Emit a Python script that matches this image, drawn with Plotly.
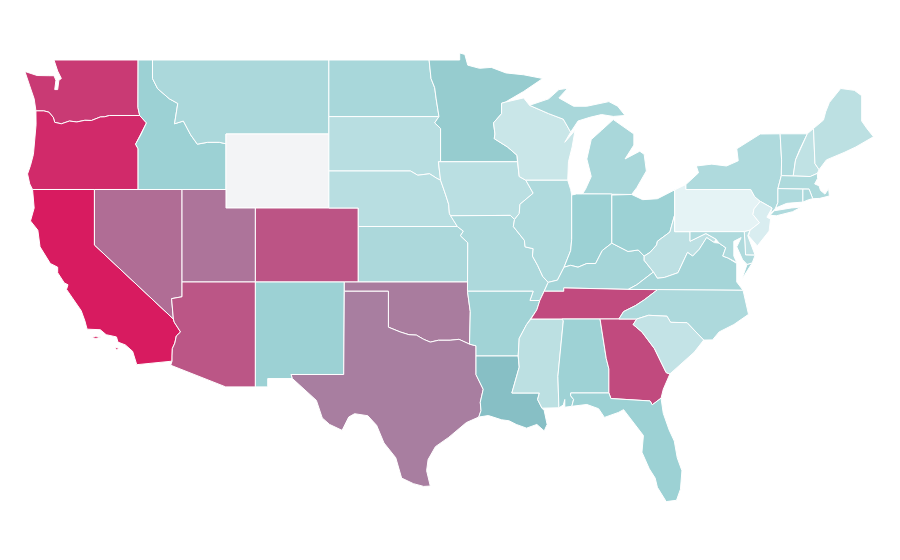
import plotly.graph_objects as go
from plotly.colors import sample_colorscale

# Values, one per state, on a -1..1 diverging scale.
states = ["WA","OR","CA","NV","ID","MT","WY","UT","AZ","CO","NM","ND","SD","NE","KS","OK","TX","MN","IA","MO","AR","LA","WI","IL","MS","MI","IN","KY","TN","AL","GA","FL","OH","WV","VA","NC","SC","PA","NY","VT","NH","ME","MA","CT","RI","NJ","DE","MD"]
values = [.875,.94,1.0,.67,-.7,-.58,0.0,.64,.76,.77,-.7,-.6,-.47,-.47,-.57,.61,.6,-.8,-.45,-.56,-.66,-1.0,-.33,-.54,-.44,-.59,-.7,-.63,.81,-.68,.81,-.7,-.7,-.43,-.63,-.56,-.38,-.1,-.54,-.54,-.4,-.44,-.55,-.54,-.56,-.2,-.43,-.54]
colorscale = [[0,"#87bfc5"],[.1,"#96cccf"],[.15,"#9cd1d4"],[.45,"#e5f3f5"],[.5,"#f3f4f6"],[.8,"#a87ea0"],[1,"#d81b60"]]
lon_range = [-125.88, -64.65]
lat_range = [21.54, 51.81]

# plotly's US base map cannot be fetched offline, so this is a hand-drawn, simplified
# lon/lat outline of each state, placed by plotly's axes (the reference is unprojected lon/lat).
outlines = {
"WA":[[(-124.73,48.38),(-123.9,48.16),(-123.1,48.15),(-122.75,48.15),(-122.62,47.9),(-122.7,47.4),(-122.5,47.4),(-122.42,47.9),(-122.25,48.0),(-122.5,48.4),(-122.75,49),(-117.03,49),(-117.04,46.43),(-116.92,46),(-118.98,46),(-119.3,45.93),(-119.6,45.92),(-120.2,45.73),(-120.65,45.74),(-121.2,45.65),(-121.7,45.7),(-122.25,45.55),(-122.7,45.63),(-122.8,45.9),(-123.1,46.18),(-123.45,46.25),(-123.98,46.25),(-124.07,46.65),(-124.1,46.9),(-124.4,47.6)]],
"OR":[[(-124.21,42),(-124.4,42.3),(-124.55,42.84),(-124.35,43.3),(-124.15,43.9),(-124.07,44.7),(-123.97,45.5),(-123.98,46.25),(-123.45,46.25),(-123.1,46.18),(-122.8,45.9),(-122.7,45.63),(-122.25,45.55),(-121.7,45.7),(-121.2,45.65),(-120.65,45.74),(-120.2,45.73),(-119.6,45.92),(-119.3,45.93),(-118.98,46),(-116.92,46),(-116.46,45.6),(-116.85,44.95),(-117.2,44.45),(-117.03,44.2),(-117.03,42),(-120,42)]],
"CA":[[(-124.21,42),(-120,42),(-120,39),(-114.63,35),(-114.57,34.83),(-114.14,34.3),(-114.43,34.08),(-114.53,33.7),(-114.7,33.4),(-114.72,33),(-114.72,32.72),(-117.12,32.53),(-117.25,32.85),(-117.4,33.25),(-117.9,33.6),(-118.4,33.75),(-118.5,34.03),(-119.2,34.15),(-119.6,34.42),(-120.5,34.45),(-120.65,34.9),(-120.9,35.45),(-121.9,36.6),(-121.8,36.85),(-122.05,36.95),(-122.5,37.5),(-122.5,37.8),(-123,38),(-123.7,38.9),(-123.85,39.8),(-124.35,40.3),(-124.1,41)],
      [(-120.2,34.0),(-119.9,34.07),(-119.55,34.03),(-119.9,33.95)],[(-118.6,33.48),(-118.35,33.42),(-118.5,33.33)]],
"NV":[[(-120,42),(-114.04,42),(-114.04,36.2),(-114.75,36.1),(-114.63,35),(-120,39)]],
"ID":[[(-117.03,42),(-111.05,42),(-111.05,44.47),(-111.5,44.55),(-112.3,44.55),(-113,44.45),(-113.45,44.95),(-113.95,45.7),(-114.55,45.55),(-114.33,46.65),(-114.9,46.9),(-115.7,47.45),(-116.05,48),(-116.05,49),(-117.03,49),(-117.04,46.43),(-116.92,46),(-116.46,45.6),(-116.85,44.95),(-117.2,44.45),(-117.03,44.2)]],
"MT":[[(-116.05,49),(-104.05,49),(-104.05,45),(-111.05,45),(-111.05,44.47),(-111.5,44.55),(-112.3,44.55),(-113,44.45),(-113.45,44.95),(-113.95,45.7),(-114.55,45.55),(-114.33,46.65),(-114.9,46.9),(-115.7,47.45),(-116.05,48)]],
"WY":[[(-111.05,45),(-104.05,45),(-104.05,41),(-111.05,41)]],
"UT":[[(-114.04,42),(-111.05,42),(-111.05,41),(-109.05,41),(-109.05,37),(-114.04,37)]],
"AZ":[[(-114.04,37),(-109.05,37),(-109.05,31.33),(-111.07,31.33),(-114.81,32.5),(-114.72,32.72),(-114.72,33),(-114.7,33.4),(-114.53,33.7),(-114.43,34.08),(-114.14,34.3),(-114.57,34.83),(-114.63,35),(-114.75,36.1),(-114.04,36.2)]],
"CO":[[(-109.05,41),(-102.05,41),(-102.05,37),(-109.05,37)]],
"NM":[[(-109.05,37),(-103,37),(-103.04,32),(-106.62,32),(-106.53,31.78),(-108.21,31.78),(-108.21,31.33),(-109.05,31.33)]],
"TX":[[(-106.62,32),(-103.04,32),(-103,36.5),(-100,36.5),(-100,34.56),(-99.2,34.3),(-98.6,34.15),(-98.1,34.13),(-97.6,33.9),(-97.15,33.75),(-96.6,33.85),(-95.8,33.85),(-95.2,33.9),(-94.48,33.64),(-94.04,33.55),(-94.04,31.99),(-93.55,31.2),(-93.75,30.5),(-93.7,30.05),(-93.85,29.7),(-94.7,29.4),(-95,29.2),(-95.9,28.6),(-96.8,28.1),(-97.3,27.4),(-97.4,26.8),(-97.15,25.97),(-97.6,25.95),(-98.3,26.1),(-99.1,26.4),(-99.5,27.5),(-100.3,28.3),(-100.8,29.25),(-101.4,29.77),(-102.3,29.88),(-102.7,29.7),(-103.15,28.98),(-104,29.3),(-104.5,29.65),(-104.9,30.6),(-106,31.4),(-106.53,31.78)]],
"OK":[[(-103,37),(-94.62,37),(-94.62,36.5),(-94.43,35.4),(-94.48,33.64),(-95.2,33.9),(-95.8,33.85),(-96.6,33.85),(-97.15,33.75),(-97.6,33.9),(-98.1,34.13),(-98.6,34.15),(-99.2,34.3),(-100,34.56),(-100,36.5),(-103,36.5)]],
"KS":[[(-102.05,40),(-95.31,40),(-94.9,39.75),(-95.1,39.5),(-94.6,39.12),(-94.62,37),(-102.05,37)]],
"NE":[[(-104.05,43),(-98.5,43),(-98,42.77),(-97.2,42.85),(-96.7,42.6),(-96.45,42.5),(-96.1,41.7),(-95.9,41.2),(-95.85,40.7),(-95.31,40),(-102.05,40),(-102.05,41),(-104.05,41)]],
"SD":[[(-104.05,45.94),(-96.56,45.94),(-96.85,45.6),(-96.45,45.3),(-96.45,43.5),(-96.6,43.5),(-96.45,42.5),(-96.7,42.6),(-97.2,42.85),(-98,42.77),(-98.5,43),(-104.05,43)]],
"ND":[[(-104.05,49),(-97.23,49),(-97.1,48),(-96.85,47.5),(-96.75,46.9),(-96.56,45.94),(-104.05,45.94)]],
"MN":[[(-97.23,49),(-95.15,49),(-95.15,49.38),(-94.8,49.3),(-94.6,48.72),(-93.8,48.55),(-93,48.6),(-92,48.3),(-90.8,48.2),(-89.5,48),(-90.8,47.3),(-92.05,46.72),(-92.3,46.66),(-92.3,46.1),(-92.85,45.6),(-92.75,45),(-92.8,44.75),(-91.9,44.3),(-91.25,43.85),(-91.22,43.5),(-96.45,43.5),(-96.45,45.3),(-96.85,45.6),(-96.56,45.94),(-96.75,46.9),(-96.85,47.5),(-97.1,48)]],
"IA":[[(-96.6,43.5),(-91.22,43.5),(-91.1,42.7),(-90.65,42.5),(-90.15,41.8),(-91.05,41.2),(-91.1,40.7),(-91.42,40.38),(-91.7,40.6),(-95.77,40.58),(-95.85,40.7),(-95.9,41.2),(-96.1,41.7),(-96.45,42.5)]],
"MO":[[(-95.77,40.58),(-91.7,40.6),(-91.42,40.38),(-91.5,40),(-90.75,39.25),(-90.7,38.9),(-90.15,38.8),(-90.2,38.4),(-89.85,37.9),(-89.5,37.3),(-89.13,36.98),(-89.4,36.5),(-89.7,36),(-90.37,36),(-90.15,36.5),(-94.62,36.5),(-94.62,37),(-94.6,39.12),(-95.1,39.5),(-94.9,39.75),(-95.31,40)]],
"AR":[[(-94.62,36.5),(-90.15,36.5),(-90.37,36),(-89.7,36),(-89.9,35.5),(-90.3,35),(-90.6,34.7),(-91.1,33.95),(-91.17,33),(-94.04,33),(-94.04,33.55),(-94.48,33.64),(-94.43,35.4)]],
"LA":[[(-94.04,33),(-91.17,33),(-91.1,32.4),(-91.6,31),(-89.73,31),(-89.85,30.65),(-89.55,30.18),(-89.4,30.05),(-89.2,29.3),(-89.4,28.95),(-89.9,29.3),(-90.6,29.1),(-91.3,29.3),(-91.8,29.5),(-92.3,29.55),(-93.2,29.78),(-93.85,29.7),(-93.7,30.05),(-93.75,30.5),(-93.55,31.2),(-94.04,31.99)]],
"WI":[[(-92.05,46.72),(-90.8,46.95),(-90.4,46.55),(-89.1,46.1),(-88.1,45.8),(-87.6,45.1),(-88,44.55),(-87.3,45.2),(-87.5,44.3),(-87.75,43.5),(-87.8,42.5),(-90.65,42.5),(-91.1,42.7),(-91.22,43.5),(-91.25,43.85),(-91.9,44.3),(-92.8,44.75),(-92.75,45),(-92.85,45.6),(-92.3,46.1),(-92.3,46.66)]],
"IL":[[(-90.65,42.5),(-87.8,42.5),(-87.6,42),(-87.53,41.7),(-87.53,39.3),(-87.6,38.7),(-87.95,38),(-88.05,37.8),(-88.5,37.1),(-89.13,36.98),(-89.5,37.3),(-89.85,37.9),(-90.2,38.4),(-90.15,38.8),(-90.7,38.9),(-90.75,39.25),(-91.5,40),(-91.42,40.38),(-91.1,40.7),(-91.05,41.2),(-90.15,41.8)]],
"MS":[[(-90.3,35),(-88.2,35),(-88.1,34.9),(-88.47,31.9),(-88.4,30.2),(-89.55,30.18),(-89.85,30.65),(-89.73,31),(-91.6,31),(-91.1,32.4),(-91.17,33),(-91.1,33.95),(-90.6,34.7)]],
"MI":[[(-86.8,41.76),(-84.8,41.76),(-83.45,41.73),(-83.1,42.1),(-82.45,43),(-82.6,43.9),(-82.9,44.07),(-83.9,43.65),(-83.3,44.4),(-83.3,45),(-84.7,45.78),(-85.5,45.2),(-86.2,44.7),(-86.5,43.65),(-86.2,42.7),(-86.6,42)],
      [(-90.4,46.55),(-89.1,46.9),(-88.4,47.4),(-87.8,47.47),(-88.4,46.95),(-87.4,46.5),(-86.5,46.5),(-85,46.75),(-84.4,46.5),(-83.9,46),(-84.7,45.95),(-85.5,46.05),(-86.3,45.9),(-87.1,45.7),(-87.6,45.1),(-88.1,45.8),(-89.1,46.1)]],
"IN":[[(-87.53,41.7),(-87.2,41.76),(-86.8,41.76),(-84.8,41.76),(-84.8,39.1),(-85.45,38.7),(-85.9,38),(-86.5,38),(-87.1,37.8),(-87.6,37.9),(-88.05,37.8),(-87.95,38),(-87.6,38.7),(-87.53,39.3)]],
"KY":[[(-89.4,36.5),(-88.07,36.5),(-88.07,36.68),(-86.5,36.65),(-83.68,36.6),(-83.1,36.85),(-81.97,37.54),(-82.6,38.17),(-82.6,38.4),(-83,38.73),(-83.7,38.65),(-84.8,39.1),(-85.45,38.7),(-85.9,38),(-86.5,38),(-87.1,37.8),(-87.6,37.9),(-88.05,37.8),(-88.5,37.1),(-89.13,36.98)]],
"TN":[[(-90.3,35),(-88.2,35),(-85.6,35),(-84.32,35),(-84,35.4),(-83.2,35.72),(-82.6,36.03),(-81.68,36.59),(-83.68,36.6),(-86.5,36.65),(-88.07,36.68),(-88.07,36.5),(-89.4,36.5),(-89.7,36),(-89.9,35.5)]],
"AL":[[(-88.2,35),(-85.6,35),(-85.18,32.87),(-85,32.3),(-85,31),(-87.6,31),(-87.6,30.85),(-87.4,30.65),(-87.52,30.28),(-88,30.23),(-88,30.65),(-88.1,30.35),(-88.4,30.2),(-88.47,31.9),(-88.1,34.9)]],
"GA":[[(-85.6,35),(-84.32,35),(-83.1,35),(-83.35,34.7),(-82.75,34.3),(-81.9,33.4),(-81.4,32.6),(-81.1,32.1),(-80.85,32.03),(-81.3,31.2),(-81.45,30.72),(-82.05,30.36),(-82.2,30.57),(-84.86,30.7),(-85,31),(-85,32.3),(-85.18,32.87)]],
"FL":[[(-87.6,31),(-85,31),(-84.86,30.7),(-82.2,30.57),(-82.05,30.36),(-81.45,30.72),(-81.3,29.9),(-80.9,29),(-80.55,28.4),(-80.35,27.5),(-80.03,26.8),(-80.13,25.8),(-80.4,25.2),(-81.1,25.13),(-81.7,25.9),(-81.85,26.4),(-82.25,26.9),(-82.75,27.8),(-82.65,28.7),(-83.4,29.5),(-84,30.1),(-84.35,29.95),(-85.3,29.68),(-85.7,30.15),(-86.5,30.38),(-87.52,30.28),(-87.4,30.65),(-87.6,30.85)]],
"OH":[[(-84.8,41.7),(-83.45,41.73),(-82.7,41.45),(-81.7,41.5),(-80.52,41.98),(-80.52,40.64),(-80.85,39.7),(-81.7,39.2),(-81.75,39),(-82.2,38.6),(-82.6,38.4),(-83,38.73),(-83.7,38.65),(-84.8,39.1)]],
"WV":[[(-82.6,38.17),(-81.97,37.54),(-81.7,37.2),(-81.2,37.25),(-80.3,37.5),(-79.65,38.6),(-79.3,38.4),(-78.85,38.77),(-78.35,39.4),(-77.83,39.13),(-77.72,39.32),(-78.4,39.62),(-79.48,39.2),(-79.48,39.72),(-80.52,39.72),(-80.52,40.64),(-80.85,39.7),(-81.7,39.2),(-81.75,39),(-82.2,38.6),(-82.6,38.4)]],
"VA":[[(-83.68,36.6),(-81.68,36.59),(-75.87,36.55),(-76.3,37),(-76.3,37.6),(-76.3,38),(-76.9,38.3),(-77.25,38.4),(-77.05,38.85),(-77.5,39.1),(-77.83,39.13),(-78.35,39.4),(-78.85,38.77),(-79.3,38.4),(-79.65,38.6),(-80.3,37.5),(-81.2,37.25),(-81.7,37.2),(-81.97,37.54),(-83.1,36.85)],
      [(-75.95,37.15),(-75.25,38.03),(-75.6,37.95)]],
"NC":[[(-84.32,35),(-84,35.4),(-83.2,35.72),(-82.6,36.03),(-81.68,36.59),(-75.87,36.55),(-75.5,35.25),(-76.5,34.7),(-77.5,34.3),(-77.95,33.87),(-78.55,33.86),(-79.68,34.8),(-80.8,34.82),(-81.05,35.15),(-82.3,35.2),(-83.1,35)]],
"SC":[[(-83.1,35),(-82.3,35.2),(-81.05,35.15),(-80.8,34.82),(-79.68,34.8),(-78.55,33.86),(-79.2,33.2),(-79.9,32.7),(-80.85,32.03),(-81.1,32.1),(-81.4,32.6),(-81.9,33.4),(-82.75,34.3),(-83.35,34.7)]],
"PA":[[(-80.52,41.98),(-79.76,42.27),(-79.76,42),(-75.35,42),(-75.07,41.6),(-74.7,41.36),(-75.13,40.95),(-75.2,40.65),(-74.75,40.2),(-75.4,39.8),(-75.79,39.72),(-80.52,39.72)]],
"NY":[[(-79.76,42),(-75.35,42),(-75.07,41.6),(-74.7,41.36),(-73.9,41),(-74,40.7),(-73.65,41),(-73.5,41.3),(-73.5,42.05),(-73.27,42.75),(-73.25,43.6),(-73.35,45.01),(-74.7,45),(-75.8,44.45),(-76.3,44.2),(-76.2,43.55),(-77,43.27),(-78,43.37),(-79.05,43.27),(-78.9,42.9),(-79.76,42.27)],
      [(-74.03,40.6),(-73.75,40.85),(-72.6,41),(-72,41.05),(-71.9,41.05),(-72.5,40.8),(-73.6,40.58)]],
"VT":[[(-73.27,42.75),(-72.46,42.73),(-72.3,43.6),(-72.05,44.1),(-71.5,45.01),(-73.35,45.01),(-73.25,43.6)]],
"NH":[[(-72.46,42.73),(-71.3,42.7),(-70.82,42.87),(-70.7,43.07),(-70.98,43.4),(-71.08,45.3),(-71.5,45.01),(-72.05,44.1),(-72.3,43.6)]],
"ME":[[(-70.7,43.07),(-70.98,43.4),(-71.08,45.3),(-70.4,45.75),(-70.25,46.2),(-70,46.7),(-69.23,47.46),(-68.3,47.36),(-67.8,47.07),(-67.8,45.7),(-67.45,45.3),(-67,44.85),(-68.2,44.3),(-69,44),(-70.2,43.6)]],
"MA":[[(-73.5,42.05),(-71.8,42.02),(-71.38,42.02),(-71.13,41.5),(-70.65,41.52),(-70,41.65),(-70.05,42.05),(-70.3,41.75),(-70.6,41.95),(-70.7,42.2),(-71,42.3),(-70.8,42.6),(-70.82,42.87),(-71.3,42.7),(-72.46,42.73),(-73.27,42.75)]],
"CT":[[(-73.65,41),(-73.5,41.3),(-73.5,42.05),(-71.8,42.02),(-71.8,41.32),(-72.9,41.25)]],
"RI":[[(-71.8,41.32),(-71.8,42.02),(-71.38,42.02),(-71.13,41.5),(-71.4,41.45)]],
"NJ":[[(-74.7,41.36),(-73.9,41),(-74.25,40.5),(-74,40.4),(-74.1,39.75),(-74.9,38.95),(-75.5,39.5),(-75.4,39.8),(-74.75,40.2),(-75.2,40.65),(-75.13,40.95)]],
"DE":[[(-75.79,39.72),(-75.4,39.8),(-75.55,39.5),(-75.05,38.45),(-75.7,38.46)]],
"MD":[[(-79.48,39.72),(-75.79,39.72),(-75.7,38.46),(-75.05,38.45),(-75.25,38.03),(-75.6,37.95),(-75.9,38.2),(-76.3,38.9),(-76,39.4),(-76.5,39.2),(-76.5,38.4),(-76.3,38.05),(-76.9,38.3),(-77.25,38.4),(-77.05,38.85),(-77.5,39.1),(-77.72,39.32),(-78.4,39.62),(-79.48,39.2)]],
}

fig = go.Figure()
for state, value in zip(states, values):
    lon, lat = [], []
    for part in outlines[state]:
        closed = part + part[:1]
        lon += [p[0] for p in closed] + [None]
        lat += [p[1] for p in closed] + [None]
    color = sample_colorscale(colorscale, [(value + 1) / 2])[0]
    fig.add_trace(go.Scatter(x=lon, y=lat, mode="lines", fill="toself", fillcolor=color,
                             line=dict(color="white", width=1), name=state, hoveron="fills", showlegend=False))
fig.update_xaxes(range=lon_range, visible=False, fixedrange=True)
fig.update_yaxes(range=lat_range, visible=False, fixedrange=True)
fig.update_layout(width=900, height=560, margin=dict(l=0, r=0, t=0, b=0), paper_bgcolor="white", plot_bgcolor="white", showlegend=False)
fig.write_html("out.html")
